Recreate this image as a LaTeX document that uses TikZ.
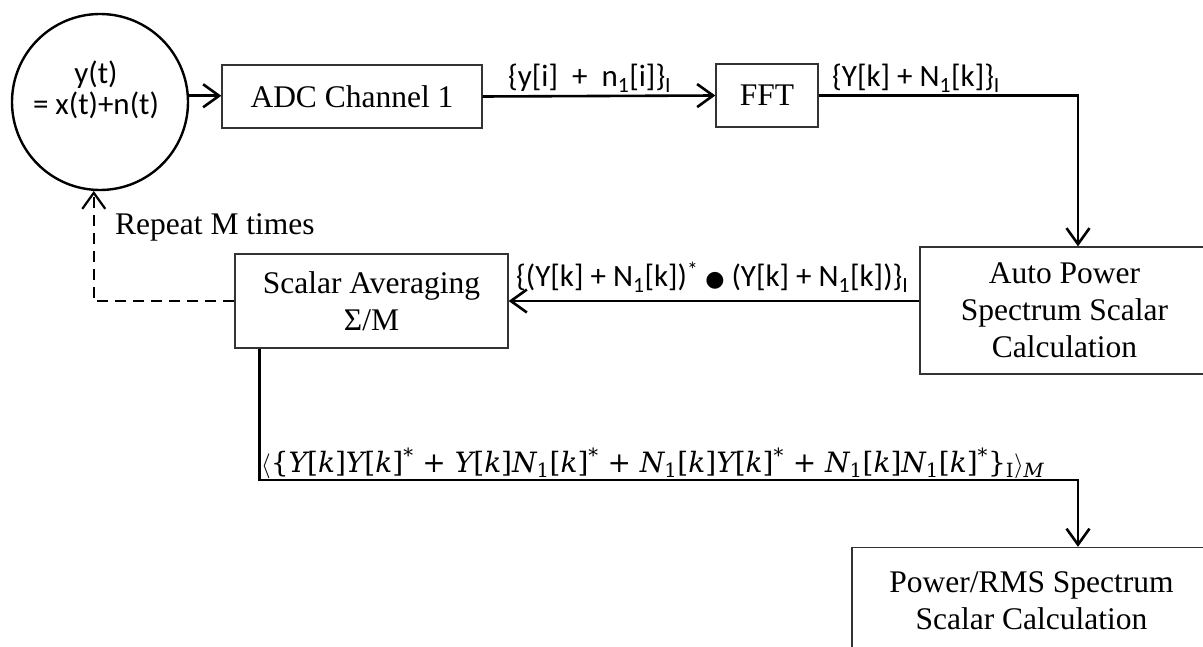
\documentclass[tikz,border=0pt]{standalone}
\usepackage{fontspec}
\setmainfont{Liberation Serif}
\newfontfamily\calfont{Carlito}
\newfontfamily\dejafont{DejaVu Sans}
\newfontfamily\eqfont{DejaVu Serif}
\usetikzlibrary{arrows.meta}
\newcommand\tnr{\fontsize{31.5}{37}\selectfont}
\newcommand\sigfont{\calfont\fontsize{31}{31}\selectfont}
% italic variable and starred / indexed terms of the averaged product
\newcommand\iv[1]{{\itshape #1}}
\newcommand\Yk{\iv{Y}[\iv{k}]}
\newcommand\Nk{\iv{N}\textsubscript{1}[\iv{k}]}
\newcommand\cj{\textsuperscript{*}}
\begin{document}
\begin{tikzpicture}[x=1pt,y=-1pt,
  box/.style={draw=black!80, line width=1.3pt, inner sep=0pt, align=center, font=\tnr},
  flow/.style={line width=2.6pt, -{Straight Barb[length=16pt,width=23pt]}},
  sig/.style={font=\sigfont, inner sep=0pt, anchor=base west}]
\useasboundingbox (0,0) rectangle (1203,647);
\clip (0,0) rectangle (1203,647);

% source signal
\node[circle, draw=black, line width=2.4pt, minimum size=176pt, inner sep=0pt] (src) at (100,102) {};
\node[font=\calfont\fontsize{31}{31}\selectfont, align=center, inner sep=0pt] (srctext) at (96,90) {y(t)\\= x(t)+n(t)};

% processing blocks
\node[box, minimum width=260pt, minimum height=63pt] (adc) at (352,96.5) {ADC Channel 1};
\node[box, minimum width=102pt, minimum height=63pt] (fft) at (767,95.5) {FFT};
\node[box, minimum width=289pt, minimum height=127pt] (auto) at (1064.5,310.5) {Auto Power\\Spectrum Scalar\\Calculation};
\node[box, minimum width=273pt, minimum height=94pt] (avg) at (371.5,301) {Scalar Averaging\\Σ/M};
\node[box, minimum width=359pt, minimum height=106pt] (pwr) at (1031.5,600.5) {Power/RMS Spectrum\\Scalar Calculation};

% signal flow
\draw[flow] (src.4) -- (src.4 -| adc.west);
\draw[flow] (adc.east) -- (fft.west);
\draw[flow] (fft.east) -| ([xshift=13.5pt]auto.north);
\draw[flow] (auto.west |- avg.east) -- (avg.east);
\draw[flow] ([xshift=25pt]avg.south west) -- ++(0,131.5) -| ([xshift=46.5pt]pwr.north);
\draw[flow, line width=2.2pt, dash pattern=on 11pt off 7pt] (avg.west) -| (src.-94.5);

% signal labels
\node[sig] (l1) at (508,87) {\{y[i]\ \ +\ \ n\textsubscript{1}[i]\}\textsubscript{I}};
\node[sig] (l2) at (832,87) {\{Y[k] + N\textsubscript{1}[k]\}\textsubscript{I}};
\node[sig] (l3) at (516,287) {\{(Y[k] + N\textsubscript{1}[k])\textsuperscript{*} {\dejafont\fontsize{22}{22}\selectfont ●} (Y[k] + N\textsubscript{1}[k])\}\textsubscript{I}};
\node[anchor=base west, inner sep=0pt, font=\eqfont\fontsize{28}{28}\selectfont] (eq) at (261,472)
  {$\langle$\{\Yk\Yk\cj\ + \Yk\Nk\cj\ + \Nk\Yk\cj\ + \Nk\Nk\cj\}\textsubscript{I}$\rangle$\textsubscript{\iv{M}}};
\node[anchor=base west, inner sep=0pt, font=\tnr] (rep) at (115,235) {Repeat M times};
\end{tikzpicture}
\end{document}
